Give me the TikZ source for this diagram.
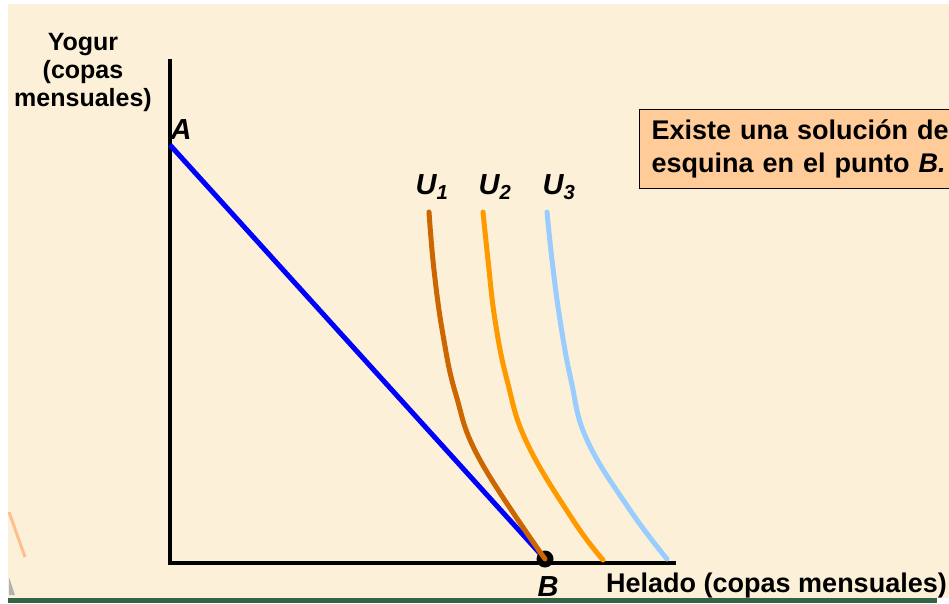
\documentclass[tikz,border=0pt]{standalone}
\usepackage{fontspec}
\setmainfont{Liberation Sans}
\usetikzlibrary{positioning}
\definecolor{paper}{RGB}{252,241,216}
\definecolor{budget}{RGB}{0,0,255}
\definecolor{uone}{RGB}{204,102,0}
\definecolor{utwo}{RGB}{255,153,0}
\definecolor{uthree}{RGB}{153,204,255}
\definecolor{notefill}{RGB}{255,204,153}
\definecolor{bargreen}{RGB}{52,100,70}

\begin{document}
\begin{tikzpicture}[x=1pt, y=-1pt,
    lbl/.style={font=\fontsize{29}{32}\selectfont\bfseries\itshape, inner sep=0pt},
    axlbl/.style={font=\fontsize{25}{28}\selectfont\bfseries, inner sep=0pt},
    curve/.style={line width=5pt, line cap=round, line join=round}]
    \useasboundingbox (0,0) rectangle (949,603);
    \clip (0,0) rectangle (949,603);
    \fill[paper] (8,4) rectangle (949,598);
    \fill[bargreen] (8,598) rectangle (937,603);
    \draw[line width=3pt, color={rgb,255:red,255;green,190;blue,140}] (9,512) -- (25,557);
    \fill[gray!60] (9,577) -- (15,595) -- (9,595) -- cycle;

    \coordinate (O) at (170,563);
    \coordinate (ytop) at (170,59);
    \coordinate (xend) at (676,563);
    \coordinate (A) at (170,145);
    \coordinate (B) at (545,559);

    \draw[line width=4pt] (ytop) -- (O) -- (xend);
    \draw[line width=5pt, budget] (A) -- (B);
    \fill (B) circle (8.5);

    \draw[curve, uone] plot[smooth, tension=0.7] coordinates
        {(429,212) (434,270) (443,335) (456,395) (480,460) (545,559)};
    \draw[curve, utwo] plot[smooth, tension=0.7] coordinates
        {(483,212) (488,260) (495,320) (507,380) (527,443) (573,520) (603,560)};
    \draw[curve, uthree] plot[smooth, tension=0.7] coordinates
        {(547,212) (552,260) (560,320) (571,380) (587,440) (630,510) (667,559)};

    \node[lbl] (labA) at (181,130) {A};
    \node[lbl] (labB) at (548,587) {B};
    \node[lbl] (labU1) at (432,187) {U\textsubscript{1}};
    \node[lbl] (labU2) at (495,187) {U\textsubscript{2}};
    \node[lbl] (labU3) at (559,187) {U\textsubscript{3}};

    \node[axlbl, align=center] (ylab) at (83,72) {Yogur\\(copas\\mensuales)};
    \node[axlbl, anchor=west, font=\fontsize{27}{30}\selectfont\bfseries] (xlab) at (606,586) {Helado (copas mensuales)};

    \node[draw, fill=notefill, line width=1pt, anchor=north west,
        minimum height=79pt, text width=310pt, inner xsep=12pt, align=left,
        font=\fontsize{27}{33}\selectfont\bfseries] (note) at (639,109)
        {Existe una solución de\\esquina en el punto \textit{B.}};
\end{tikzpicture}
\end{document}
